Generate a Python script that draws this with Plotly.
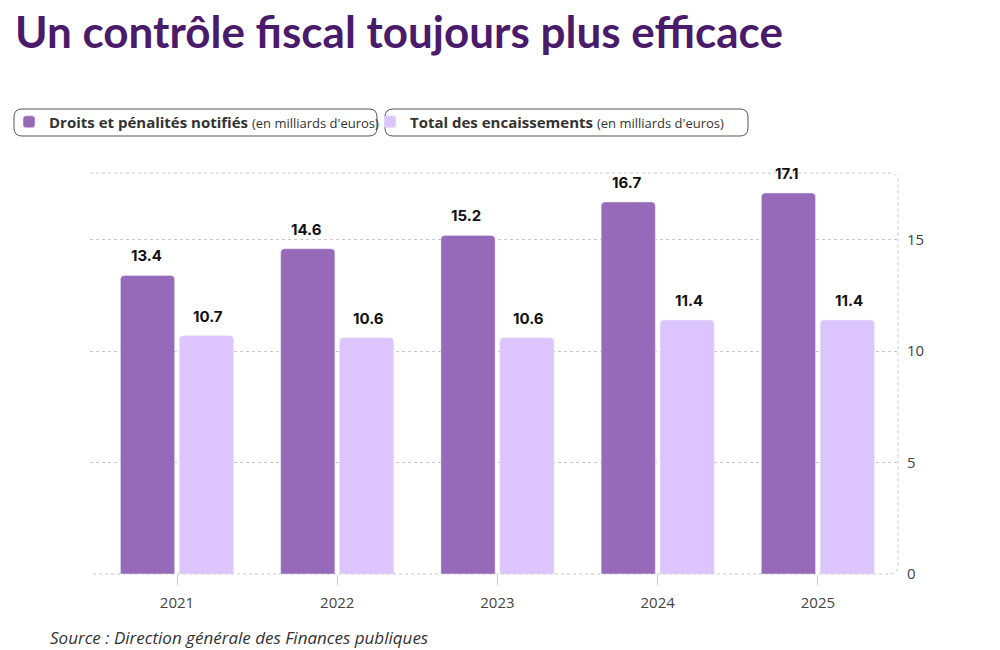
import plotly.graph_objects as go

years = ["2021", "2022", "2023", "2024", "2025"]
droits = [13.4, 14.6, 15.2, 16.7, 17.1]
encaissements = [10.7, 10.6, 10.6, 11.4, 11.4]
y_ticks = [0, 5, 10, 15]

title_text = "Un contrôle fiscal toujours plus efficace"
name_droits = "<b>Droits et pénalités notifiés</b> <span style='font-size:13px;font-weight:normal'>(en milliards d'euros)</span>"
name_enc = "<b>Total des encaissements</b> <span style='font-size:13px;font-weight:normal'>(en milliards d'euros)</span>"
source_text = "Source : Direction générale des Finances publiques"

C_DARK = "#9669B9"
C_LIGHT = "#DCC4FE"

W, H = 1000, 650
def px(x):
    return x / W
def py(y):
    return 1 - y / H

fig = go.Figure()
fig.add_trace(go.Bar(x=years, y=droits, name=name_droits, marker=dict(color=C_DARK, cornerradius=4),
                     hoverinfo="y"))
fig.add_trace(go.Bar(x=years, y=encaissements, name=name_enc, marker=dict(color=C_LIGHT, cornerradius=4),
                     hoverinfo="y"))

annotations = []
for i, v in enumerate(droits):
    annotations.append(dict(x=i, y=v, xref="x", yref="y", text=f"<b>{v}</b>", showarrow=False,
                            xshift=-31, yshift=8, yanchor="bottom",
                            font=dict(family="Inter", size=15, color="#111")))
for i, v in enumerate(encaissements):
    annotations.append(dict(x=i, y=v, xref="x", yref="y", text=f"<b>{v}</b>", showarrow=False,
                            xshift=31, yshift=8, yanchor="bottom",
                            font=dict(family="Inter", size=15, color="#111")))

annotations.append(dict(x=px(13), y=py(31), xref="paper", yref="paper", xanchor="left", yanchor="middle",
                        text=f"<b>{title_text}</b>", showarrow=False,
                        font=dict(family="Lato", size=44, color="#4A1A6B", weight=900)))
annotations.append(dict(x=px(48), y=py(637), xref="paper", yref="paper", xanchor="left", yanchor="middle",
                        text=f"<i>{source_text}</i>", showarrow=False,
                        font=dict(family="Open Sans", size=17, color="#333")))

L, R, T, B = 90, 898, 173, 574
rr = 9
border_path = (f"M {px(L)},{py(T)} L {px(R-rr)},{py(T)} Q {px(R)},{py(T)} {px(R)},{py(T+rr)} "
               f"L {px(R)},{py(B-rr)} Q {px(R)},{py(B)} {px(R-rr)},{py(B)} L {px(L)},{py(B)}")
shapes = [dict(type="path", path=border_path, xref="paper", yref="paper",
               line=dict(color="#c8c8c8", width=1, dash="3px,3px"), layer="below")]

def rounded_box(x0, y0, x1, y1, r=8):
    return (f"M {px(x0+r)},{py(y0)} L {px(x1-r)},{py(y0)} Q {px(x1)},{py(y0)} {px(x1)},{py(y0+r)} "
            f"L {px(x1)},{py(y1-r)} Q {px(x1)},{py(y1)} {px(x1-r)},{py(y1)} "
            f"L {px(x0+r)},{py(y1)} Q {px(x0)},{py(y1)} {px(x0)},{py(y1-r)} "
            f"L {px(x0)},{py(y0+r)} Q {px(x0)},{py(y0)} {px(x0+r)},{py(y0)} Z")
for (a, b) in [(14, 377), (385, 748)]:
    shapes.append(dict(type="path", path=rounded_box(a, 109, b, 136), xref="paper", yref="paper",
                       line=dict(color="#555", width=1)))

fig.update_layout(
    width=W, height=H,
    margin=dict(l=0, r=0, t=0, b=0),
    paper_bgcolor="white", plot_bgcolor="white",
    barmode="group", bargap=0.265, bargroupgap=0.08,
    showlegend=True,
    legend=dict(orientation="h", x=px(9), y=py(122), xanchor="left", yanchor="middle",
                font=dict(family="Open Sans", size=15, color="#333"),
                entrywidth=316, entrywidthmode="pixels",
                bgcolor="rgba(0,0,0,0)", itemclick=False, itemdoubleclick=False),
    xaxis=dict(domain=[px(L), px(R)], range=[-0.543, 4.5], type="category",
               showgrid=False, showline=False, zeroline=False,
               ticks="outside", ticklen=10, tickcolor="#cccccc", tickwidth=1, ticklabelstandoff=5,
               tickfont=dict(family="Open Sans", size=15, color="#444"), automargin=False),
    yaxis=dict(domain=[py(B), py(T)], range=[0, 18], side="right",
               tickvals=y_ticks, showgrid=True, gridcolor="#c8c8c8", griddash="3px,3px",
               zeroline=False, showline=False, ticklabelstandoff=8,
               tickfont=dict(family="Open Sans", size=15, color="#444"), automargin=False),
    annotations=annotations,
    shapes=shapes,
)

fig.write_html("out.html")
